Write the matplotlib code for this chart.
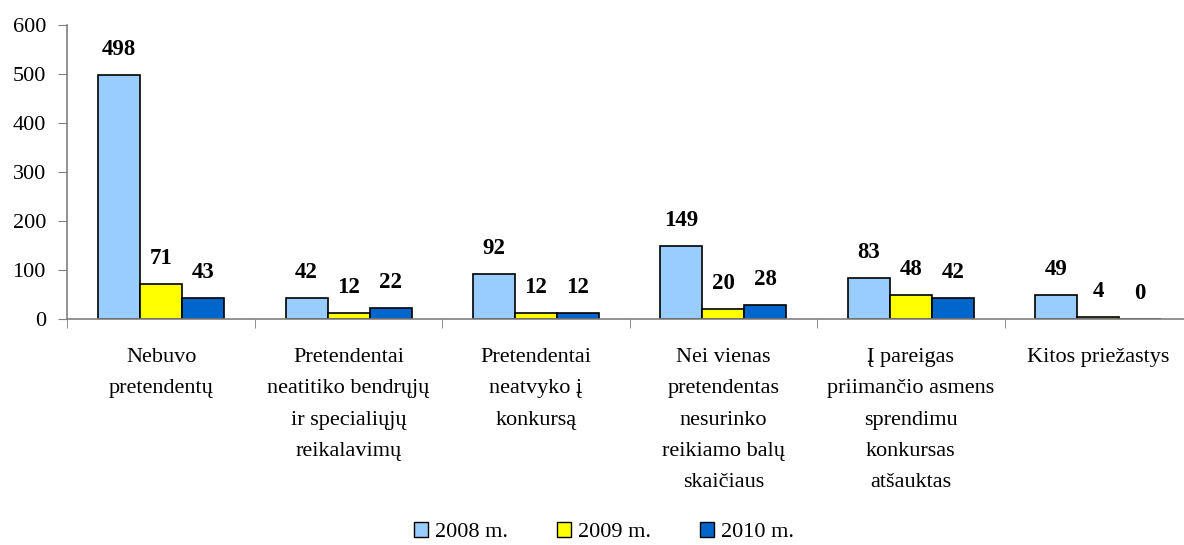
import numpy as np
import matplotlib.pyplot as plt
from matplotlib.patches import Patch

plt.rcParams['font.family'] = ['Liberation Serif', 'DejaVu Serif']

categories = ['Nebuvo\npretendentų',
              'Pretendentai\nneatitiko bendrųjų\nir specialiųjų\nreikalavimų',
              'Pretendentai\nneatvyko į\nkonkursą',
              'Nei vienas\npretendentas\nnesurinko\nreikiamo balų\nskaičiaus',
              'Į pareigas\npriimančio asmens\nsprendimu\nkonkursas\natšauktas',
              'Kitos priežastys']
v2008 = [498, 42, 92, 149, 83, 49]
v2009 = [71, 12, 12, 20, 48, 4]
v2010 = [43, 22, 12, 28, 42, 0]
series = ['2008 m.', '2009 m.', '2010 m.']
colors = ['#99ccff', '#ffff00', '#0066cc']

fig = plt.figure(figsize=(11.84, 5.45), dpi=100)
ax = fig.add_axes([0.057, 0.4147, 0.9497, 0.5394])

x = np.arange(len(categories))
w = 0.224
for i, vals in enumerate([v2008, v2009, v2010]):
    pos = x + (i - 1) * w
    ax.bar(pos, vals, width=w, color=colors[i], edgecolor='black', linewidth=1.2)
    for px, v in zip(pos, vals):
        ax.annotate(str(v), (px, v), xytext=(0, 11), textcoords='offset points',
                    ha='center', va='bottom', fontsize=16.5, fontweight='bold')

ax.set_xlim(-0.5, len(categories) - 0.5)
ax.set_ylim(0, 600)
ax.set_yticks(range(0, 601, 100))
ax.tick_params(axis='y', labelsize=16, length=6.5, color='#808080', pad=9)

ax.set_xticks(x)
ax.set_xticklabels(categories, fontsize=16, linespacing=1.87, va='top')
ax.tick_params(axis='x', which='major', length=0, pad=21)
ax.set_xticks(np.arange(-0.5, len(categories), 1.0), minor=True)
ax.tick_params(axis='x', which='minor', length=6.5, color='#808080')

for s in ['top', 'right']:
    ax.spines[s].set_visible(False)
for s in ['left', 'bottom']:
    ax.spines[s].set_color('#808080')
    ax.spines[s].set_linewidth(1.2)

handles = [Patch(facecolor=c, edgecolor='black', label=l) for c, l in zip(colors, series)]
fig.legend(handles=handles, loc='center', bbox_to_anchor=(0.51, 0.024), ncol=3,
           frameon=False, fontsize=16, handlelength=0.65, handleheight=0.65,
           handletextpad=0.3, columnspacing=2.2, borderpad=0)

fig.savefig('out.png', dpi=100)
